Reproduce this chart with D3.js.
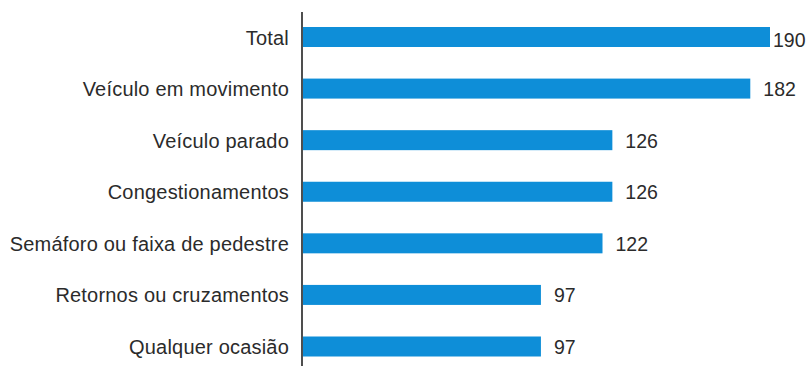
<!DOCTYPE html>
<html>
<head>
<meta charset="utf-8">
<title>Chart</title>
<script src="https://d3js.org/d3.v7.min.js"></script>
<style>
  body { margin: 0; background: #fff; }
  text { font-family: "Liberation Sans", Arial, sans-serif; fill: #2b2b2b; }
</style>
</head>
<body>
<div id="chart"></div>
<script>
// data
var categories = ["Total", "Veículo em movimento", "Veículo parado", "Congestionamentos",
                  "Semáforo ou faixa de pedestre", "Retornos ou cruzamentos", "Qualquer ocasião"];
var values = [190, 182, 126, 126, 122, 97, 97];

var width = 807, height = 366;

var svg = d3.select("#chart").append("svg")
  .attr("width", width)
  .attr("height", height);

var x = d3.scaleLinear().domain([0, 190]).range([302, 770]);
var y = d3.scalePoint().domain(categories).range([37, 346.5]);
var barH = 20;

// bars
svg.selectAll("rect.bar")
  .data(values)
  .enter().append("rect")
    .attr("class", "bar")
    .attr("x", x(0) + 1)
    .attr("y", function(d, i) { return y(categories[i]) - barH / 2; })
    .attr("width", function(d) { return x(d) - x(0) - 1; })
    .attr("height", barH)
    .attr("fill", "#0e8ed8");

// value labels
svg.selectAll("text.val")
  .data(values)
  .enter().append("text")
    .attr("class", "val")
    .attr("x", function(d, i) { return x(d) + (i === 0 ? 3 : 13); })
    .attr("y", function(d, i) { return y(categories[i]) + (i === 0 ? 9.5 : 7.5); })
    .attr("font-size", 19.5)
    .text(function(d) { return d; });

// category labels
svg.selectAll("text.cat")
  .data(categories)
  .enter().append("text")
    .attr("class", "cat")
    .attr("x", 289)
    .attr("y", function(d) { return y(d) + 7.5; })
    .attr("text-anchor", "end")
    .attr("font-size", 20)
    .attr("letter-spacing", 0.2)
    .text(function(d) { return d; });

// vertical axis line
svg.append("line")
  .attr("x1", x(0)).attr("x2", x(0))
  .attr("y1", 12).attr("y2", height)
  .attr("stroke", "#222")
  .attr("stroke-width", 1.6);
</script>
</body>
</html>
